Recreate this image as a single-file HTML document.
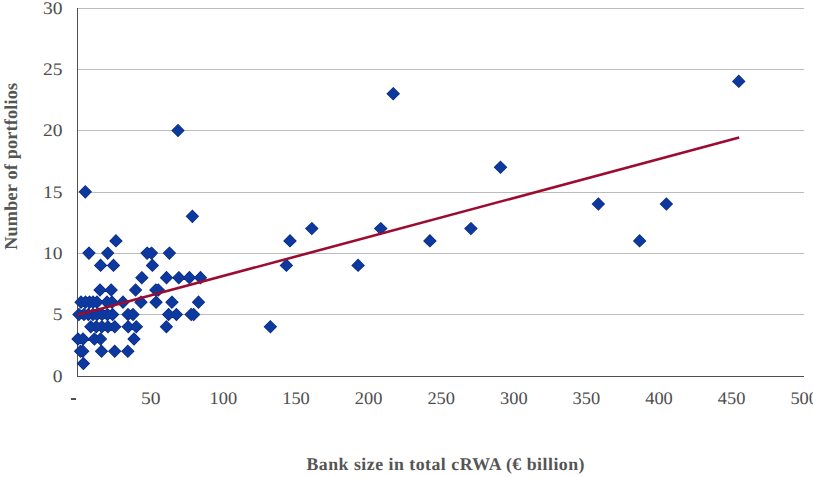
<!DOCTYPE html>
<html><head><meta charset="utf-8"><style>
html,body{margin:0;padding:0;background:#fff;width:813px;height:477px;overflow:hidden}
svg{display:block}
text{font-family:"Liberation Serif",serif;fill:#4e4e4e;text-rendering:geometricPrecision}
.t{fill:#555555}
</style></head><body>
<svg width="813" height="477" viewBox="0 0 813 477">
<rect width="813" height="477" fill="#fff"/>
<g fill="#bcbcbc"><rect x="78" y="8" width="726" height="1"/><rect x="78" y="69" width="726" height="1"/><rect x="78" y="130" width="726" height="1"/><rect x="78" y="192" width="726" height="1"/><rect x="78" y="253" width="726" height="1"/><rect x="78" y="314" width="726" height="1"/></g>
<g fill="#505050"><rect x="77" y="8" width="1" height="369"/><rect x="77" y="376" width="727" height="1"/></g>
<path fill="none" stroke="#0a2a82" stroke-width="1.3" d="M83.4 357.7L89.2 363.5L83.4 369.4L77.6 363.5ZM80.5 345.4L86.3 351.3L80.5 357.1L74.7 351.3ZM82.8 345.4L88.6 351.3L82.8 357.1L77.0 351.3ZM101.5 345.4L107.3 351.3L101.5 357.1L95.7 351.3ZM114.7 345.4L120.5 351.3L114.7 357.1L108.9 351.3ZM127.8 345.4L133.7 351.3L127.8 357.1L122.0 351.3ZM78.0 333.1L83.8 339.0L78.0 344.9L72.2 339.0ZM83.0 333.1L88.8 339.0L83.0 344.9L77.2 339.0ZM94.4 333.1L100.2 339.0L94.4 344.9L88.6 339.0ZM100.5 333.1L106.3 339.0L100.5 344.9L94.7 339.0ZM134.0 333.1L139.8 339.0L134.0 344.9L128.2 339.0ZM90.8 320.9L96.6 326.7L90.8 332.6L85.0 326.7ZM96.3 320.9L102.1 326.7L96.3 332.6L90.5 326.7ZM101.9 320.9L107.8 326.7L101.9 332.6L96.1 326.7ZM107.9 320.9L113.8 326.7L107.9 332.6L102.1 326.7ZM114.8 320.9L120.6 326.7L114.8 332.6L109.0 326.7ZM128.2 320.9L134.0 326.7L128.2 332.6L122.3 326.7ZM136.3 320.9L142.2 326.7L136.3 332.6L130.5 326.7ZM166.4 320.9L172.2 326.7L166.4 332.6L160.6 326.7ZM270.4 320.9L276.2 326.7L270.4 332.6L264.5 326.7ZM78.9 308.6L84.8 314.5L78.9 320.3L73.1 314.5ZM84.0 308.6L89.8 314.5L84.0 320.3L78.2 314.5ZM88.4 308.6L94.2 314.5L88.4 320.3L82.6 314.5ZM93.0 308.6L98.8 314.5L93.0 320.3L87.2 314.5ZM97.0 308.6L102.8 314.5L97.0 320.3L91.2 314.5ZM102.0 308.6L107.8 314.5L102.0 320.3L96.2 314.5ZM107.4 308.6L113.2 314.5L107.4 320.3L101.6 314.5ZM112.6 308.6L118.4 314.5L112.6 320.3L106.8 314.5ZM128.0 308.6L133.8 314.5L128.0 320.3L122.2 314.5ZM133.0 308.6L138.8 314.5L133.0 320.3L127.2 314.5ZM168.6 308.6L174.4 314.5L168.6 320.3L162.8 314.5ZM176.4 308.6L182.2 314.5L176.4 320.3L170.6 314.5ZM191.2 308.6L197.0 314.5L191.2 320.3L185.3 314.5ZM193.7 308.6L199.5 314.5L193.7 320.3L187.8 314.5ZM81.0 296.3L86.8 302.2L81.0 308.1L75.2 302.2ZM85.5 296.3L91.3 302.2L85.5 308.1L79.7 302.2ZM89.5 296.3L95.3 302.2L89.5 308.1L83.7 302.2ZM93.0 296.3L98.8 302.2L93.0 308.1L87.2 302.2ZM97.0 296.3L102.8 302.2L97.0 308.1L91.2 302.2ZM107.0 296.3L112.8 302.2L107.0 308.1L101.2 302.2ZM112.0 296.3L117.8 302.2L112.0 308.1L106.2 302.2ZM123.0 296.3L128.8 302.2L123.0 308.1L117.2 302.2ZM140.9 296.3L146.8 302.2L140.9 308.1L135.1 302.2ZM156.1 296.3L161.9 302.2L156.1 308.1L150.2 302.2ZM171.9 296.3L177.8 302.2L171.9 308.1L166.1 302.2ZM198.5 296.3L204.3 302.2L198.5 308.1L192.7 302.2ZM100.0 284.1L105.8 289.9L100.0 295.8L94.2 289.9ZM111.2 284.1L117.0 289.9L111.2 295.8L105.4 289.9ZM135.6 284.1L141.4 289.9L135.6 295.8L129.8 289.9ZM155.8 284.1L161.7 289.9L155.8 295.8L150.0 289.9ZM158.3 284.1L164.2 289.9L158.3 295.8L152.5 289.9ZM141.8 271.8L147.7 277.7L141.8 283.5L136.0 277.7ZM166.5 271.8L172.3 277.7L166.5 283.5L160.7 277.7ZM178.8 271.8L184.7 277.7L178.8 283.5L173.0 277.7ZM189.4 271.8L195.2 277.7L189.4 283.5L183.6 277.7ZM200.5 271.8L206.3 277.7L200.5 283.5L194.7 277.7ZM100.6 259.5L106.4 265.4L100.6 271.2L94.8 265.4ZM113.5 259.5L119.3 265.4L113.5 271.2L107.7 265.4ZM152.4 259.5L158.2 265.4L152.4 271.2L146.6 265.4ZM286.4 259.5L292.2 265.4L286.4 271.2L280.5 265.4ZM358.1 259.5L364.0 265.4L358.1 271.2L352.2 265.4ZM88.9 247.3L94.8 253.1L88.9 259.0L83.1 253.1ZM107.7 247.3L113.5 253.1L107.7 259.0L101.9 253.1ZM147.1 247.3L152.9 253.1L147.1 259.0L141.2 253.1ZM151.5 247.3L157.3 253.1L151.5 259.0L145.7 253.1ZM169.4 247.3L175.2 253.1L169.4 259.0L163.6 253.1ZM115.9 235.0L121.8 240.9L115.9 246.7L110.1 240.9ZM290.0 235.0L295.9 240.9L290.0 246.7L284.1 240.9ZM429.9 235.0L435.8 240.9L429.9 246.7L424.0 240.9ZM639.6 235.0L645.5 240.9L639.6 246.7L633.8 240.9ZM311.8 222.8L317.7 228.6L311.8 234.4L305.9 228.6ZM380.7 222.8L386.6 228.6L380.7 234.4L374.8 228.6ZM470.9 222.8L476.8 228.6L470.9 234.4L465.0 228.6ZM192.4 210.5L198.2 216.3L192.4 222.2L186.6 216.3ZM598.4 198.2L604.2 204.1L598.4 209.9L592.5 204.1ZM666.4 198.2L672.2 204.1L666.4 209.9L660.5 204.1ZM85.3 186.0L91.1 191.8L85.3 197.7L79.5 191.8ZM500.5 161.4L506.4 167.3L500.5 173.1L494.6 167.3ZM178.0 124.6L183.8 130.5L178.0 136.3L172.2 130.5ZM393.2 87.8L399.1 93.7L393.2 99.5L387.3 93.7ZM738.8 75.5L744.6 81.4L738.8 87.2L732.9 81.4Z"/>
<path fill="#0d389d" d="M83.4 357.7L89.2 363.5L83.4 369.4L77.6 363.5ZM80.5 345.4L86.3 351.3L80.5 357.1L74.7 351.3ZM82.8 345.4L88.6 351.3L82.8 357.1L77.0 351.3ZM101.5 345.4L107.3 351.3L101.5 357.1L95.7 351.3ZM114.7 345.4L120.5 351.3L114.7 357.1L108.9 351.3ZM127.8 345.4L133.7 351.3L127.8 357.1L122.0 351.3ZM78.0 333.1L83.8 339.0L78.0 344.9L72.2 339.0ZM83.0 333.1L88.8 339.0L83.0 344.9L77.2 339.0ZM94.4 333.1L100.2 339.0L94.4 344.9L88.6 339.0ZM100.5 333.1L106.3 339.0L100.5 344.9L94.7 339.0ZM134.0 333.1L139.8 339.0L134.0 344.9L128.2 339.0ZM90.8 320.9L96.6 326.7L90.8 332.6L85.0 326.7ZM96.3 320.9L102.1 326.7L96.3 332.6L90.5 326.7ZM101.9 320.9L107.8 326.7L101.9 332.6L96.1 326.7ZM107.9 320.9L113.8 326.7L107.9 332.6L102.1 326.7ZM114.8 320.9L120.6 326.7L114.8 332.6L109.0 326.7ZM128.2 320.9L134.0 326.7L128.2 332.6L122.3 326.7ZM136.3 320.9L142.2 326.7L136.3 332.6L130.5 326.7ZM166.4 320.9L172.2 326.7L166.4 332.6L160.6 326.7ZM270.4 320.9L276.2 326.7L270.4 332.6L264.5 326.7ZM78.9 308.6L84.8 314.5L78.9 320.3L73.1 314.5ZM84.0 308.6L89.8 314.5L84.0 320.3L78.2 314.5ZM88.4 308.6L94.2 314.5L88.4 320.3L82.6 314.5ZM93.0 308.6L98.8 314.5L93.0 320.3L87.2 314.5ZM97.0 308.6L102.8 314.5L97.0 320.3L91.2 314.5ZM102.0 308.6L107.8 314.5L102.0 320.3L96.2 314.5ZM107.4 308.6L113.2 314.5L107.4 320.3L101.6 314.5ZM112.6 308.6L118.4 314.5L112.6 320.3L106.8 314.5ZM128.0 308.6L133.8 314.5L128.0 320.3L122.2 314.5ZM133.0 308.6L138.8 314.5L133.0 320.3L127.2 314.5ZM168.6 308.6L174.4 314.5L168.6 320.3L162.8 314.5ZM176.4 308.6L182.2 314.5L176.4 320.3L170.6 314.5ZM191.2 308.6L197.0 314.5L191.2 320.3L185.3 314.5ZM193.7 308.6L199.5 314.5L193.7 320.3L187.8 314.5ZM81.0 296.3L86.8 302.2L81.0 308.1L75.2 302.2ZM85.5 296.3L91.3 302.2L85.5 308.1L79.7 302.2ZM89.5 296.3L95.3 302.2L89.5 308.1L83.7 302.2ZM93.0 296.3L98.8 302.2L93.0 308.1L87.2 302.2ZM97.0 296.3L102.8 302.2L97.0 308.1L91.2 302.2ZM107.0 296.3L112.8 302.2L107.0 308.1L101.2 302.2ZM112.0 296.3L117.8 302.2L112.0 308.1L106.2 302.2ZM123.0 296.3L128.8 302.2L123.0 308.1L117.2 302.2ZM140.9 296.3L146.8 302.2L140.9 308.1L135.1 302.2ZM156.1 296.3L161.9 302.2L156.1 308.1L150.2 302.2ZM171.9 296.3L177.8 302.2L171.9 308.1L166.1 302.2ZM198.5 296.3L204.3 302.2L198.5 308.1L192.7 302.2ZM100.0 284.1L105.8 289.9L100.0 295.8L94.2 289.9ZM111.2 284.1L117.0 289.9L111.2 295.8L105.4 289.9ZM135.6 284.1L141.4 289.9L135.6 295.8L129.8 289.9ZM155.8 284.1L161.7 289.9L155.8 295.8L150.0 289.9ZM158.3 284.1L164.2 289.9L158.3 295.8L152.5 289.9ZM141.8 271.8L147.7 277.7L141.8 283.5L136.0 277.7ZM166.5 271.8L172.3 277.7L166.5 283.5L160.7 277.7ZM178.8 271.8L184.7 277.7L178.8 283.5L173.0 277.7ZM189.4 271.8L195.2 277.7L189.4 283.5L183.6 277.7ZM200.5 271.8L206.3 277.7L200.5 283.5L194.7 277.7ZM100.6 259.5L106.4 265.4L100.6 271.2L94.8 265.4ZM113.5 259.5L119.3 265.4L113.5 271.2L107.7 265.4ZM152.4 259.5L158.2 265.4L152.4 271.2L146.6 265.4ZM286.4 259.5L292.2 265.4L286.4 271.2L280.5 265.4ZM358.1 259.5L364.0 265.4L358.1 271.2L352.2 265.4ZM88.9 247.3L94.8 253.1L88.9 259.0L83.1 253.1ZM107.7 247.3L113.5 253.1L107.7 259.0L101.9 253.1ZM147.1 247.3L152.9 253.1L147.1 259.0L141.2 253.1ZM151.5 247.3L157.3 253.1L151.5 259.0L145.7 253.1ZM169.4 247.3L175.2 253.1L169.4 259.0L163.6 253.1ZM115.9 235.0L121.8 240.9L115.9 246.7L110.1 240.9ZM290.0 235.0L295.9 240.9L290.0 246.7L284.1 240.9ZM429.9 235.0L435.8 240.9L429.9 246.7L424.0 240.9ZM639.6 235.0L645.5 240.9L639.6 246.7L633.8 240.9ZM311.8 222.8L317.7 228.6L311.8 234.4L305.9 228.6ZM380.7 222.8L386.6 228.6L380.7 234.4L374.8 228.6ZM470.9 222.8L476.8 228.6L470.9 234.4L465.0 228.6ZM192.4 210.5L198.2 216.3L192.4 222.2L186.6 216.3ZM598.4 198.2L604.2 204.1L598.4 209.9L592.5 204.1ZM666.4 198.2L672.2 204.1L666.4 209.9L660.5 204.1ZM85.3 186.0L91.1 191.8L85.3 197.7L79.5 191.8ZM500.5 161.4L506.4 167.3L500.5 173.1L494.6 167.3ZM178.0 124.6L183.8 130.5L178.0 136.3L172.2 130.5ZM393.2 87.8L399.1 93.7L393.2 99.5L387.3 93.7ZM738.8 75.5L744.6 81.4L738.8 87.2L732.9 81.4Z"/>
<line x1="77.6" y1="315.1" x2="739.2" y2="137.5" stroke="#9c0c30" stroke-width="2.6"/>
<g font-size="17.7" text-anchor="end"><text x="62.5" y="382.4" textLength="9.75" lengthAdjust="spacingAndGlyphs">0</text><text x="62.5" y="320.4" textLength="9.75" lengthAdjust="spacingAndGlyphs">5</text><text x="62.5" y="259.4" textLength="19.50" lengthAdjust="spacingAndGlyphs">10</text><text x="62.5" y="198.4" textLength="19.50" lengthAdjust="spacingAndGlyphs">15</text><text x="62.5" y="136.4" textLength="19.50" lengthAdjust="spacingAndGlyphs">20</text><text x="62.5" y="75.4" textLength="19.50" lengthAdjust="spacingAndGlyphs">25</text><text x="62.5" y="14.4" textLength="19.50" lengthAdjust="spacingAndGlyphs">30</text></g>
<g font-size="17.7" text-anchor="middle"><text x="150.8" y="404" textLength="19.50" lengthAdjust="spacingAndGlyphs">50</text><text x="223.4" y="404" textLength="27.60" lengthAdjust="spacingAndGlyphs">100</text><text x="296.0" y="404" textLength="27.60" lengthAdjust="spacingAndGlyphs">150</text><text x="368.6" y="404" textLength="27.60" lengthAdjust="spacingAndGlyphs">200</text><text x="441.2" y="404" textLength="27.60" lengthAdjust="spacingAndGlyphs">250</text><text x="513.8" y="404" textLength="27.60" lengthAdjust="spacingAndGlyphs">300</text><text x="586.4" y="404" textLength="27.60" lengthAdjust="spacingAndGlyphs">350</text><text x="659.0" y="404" textLength="27.60" lengthAdjust="spacingAndGlyphs">400</text><text x="731.6" y="404" textLength="27.60" lengthAdjust="spacingAndGlyphs">450</text><text x="804.2" y="404" textLength="27.60" lengthAdjust="spacingAndGlyphs">500</text></g>
<rect x="71" y="398" width="5" height="2" fill="#505050"/>
<text x="445.5" y="469.9" font-size="17.8" font-weight="bold" text-anchor="middle" class="t" textLength="278" lengthAdjust="spacing">Bank size in total cRWA (€ billion)</text>
<text transform="translate(16.8,166.3) rotate(-90)" font-size="18.2" font-weight="bold" text-anchor="middle" class="t" textLength="167" lengthAdjust="spacing">Number of portfolios</text>
</svg>
</body></html>
